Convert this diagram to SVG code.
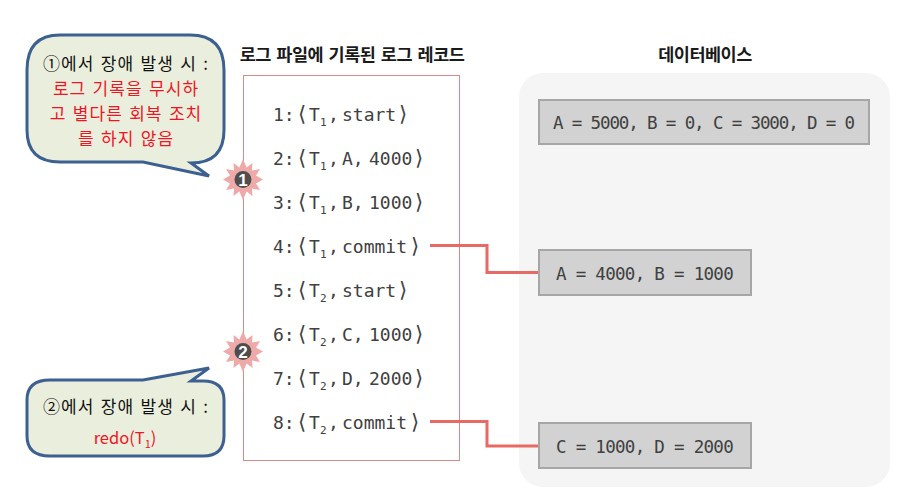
<svg xmlns="http://www.w3.org/2000/svg" width="897" height="497" viewBox="0 0 897 497">
<defs>
<style>
.log{font-family:"DejaVu Sans Mono","Liberation Mono",monospace;font-size:18px;fill:#404040}
.sub{font-size:11px}
.br{font-family:"DejaVu Sans",sans-serif;font-size:21px}
.db{font-family:"DejaVu Sans Mono","Liberation Mono",monospace;font-size:17.5px;fill:#404040;letter-spacing:-.7px}
.db0{letter-spacing:-1.13px}
.box{fill:#d2d2d2;stroke:#a6a6a6;stroke-width:2}
.head{font-family:"Noto Sans CJK KR","Noto Sans",sans-serif;font-size:17.5px;font-weight:700;fill:#1a1a1a;text-anchor:middle;letter-spacing:-.5px}
.call{fill:#eaeedd;stroke:#3c6090;stroke-width:3}
.k{font-family:"Noto Sans CJK KR","Noto Sans",sans-serif;font-size:17px;text-anchor:middle;fill:#111;letter-spacing:1.05px;word-spacing:1.5px}
.r{fill:#f01525}
.conn{fill:none;stroke:#e86a64;stroke-width:3}
.star{fill:#eeaaa8}
.dot{fill:#4d4d4d}
.num{font-family:"Liberation Sans",sans-serif;font-size:17px;font-weight:700;fill:#fff;text-anchor:middle}
</style>
</defs>
<rect id="db-panel" x="519" y="73" width="371" height="414" rx="24" fill="#f5f5f5"/>
<text class="head" x="352" y="61" word-spacing="2">로그 파일에 기록된 로그 레코드</text>
<text class="head" x="705" y="61">데이터베이스</text>
<g id="log-box">
<rect x="243.500" y="75.500" width="216" height="385" fill="none" stroke="#dc8a88" stroke-width="1"/>
<text class="log" y="121"><tspan x="273">1:</tspan><tspan class="br" x="298">⟨</tspan><tspan x="309">T</tspan><tspan class="sub" x="320" dy="5">1</tspan><tspan x="328" dy="-5">,</tspan><tspan x="342">start</tspan><tspan class="br" x="399">⟩</tspan></text>
<text class="log" y="165"><tspan x="273">2:</tspan><tspan class="br" x="298">⟨</tspan><tspan x="309">T</tspan><tspan class="sub" x="320" dy="5">1</tspan><tspan x="328" dy="-5">,</tspan><tspan x="342">A,</tspan><tspan x="369">4000</tspan><tspan class="br" x="415">⟩</tspan></text>
<text class="log" y="209"><tspan x="273">3:</tspan><tspan class="br" x="298">⟨</tspan><tspan x="309">T</tspan><tspan class="sub" x="320" dy="5">1</tspan><tspan x="328" dy="-5">,</tspan><tspan x="342">B,</tspan><tspan x="369">1000</tspan><tspan class="br" x="415">⟩</tspan></text>
<text class="log" y="253"><tspan x="273">4:</tspan><tspan class="br" x="298">⟨</tspan><tspan x="309">T</tspan><tspan class="sub" x="320" dy="5">1</tspan><tspan x="328" dy="-5">,</tspan><tspan x="342">commit</tspan><tspan class="br" x="411">⟩</tspan></text>
<text class="log" y="297"><tspan x="273">5:</tspan><tspan class="br" x="298">⟨</tspan><tspan x="309">T</tspan><tspan class="sub" x="320" dy="5">2</tspan><tspan x="328" dy="-5">,</tspan><tspan x="342">start</tspan><tspan class="br" x="399">⟩</tspan></text>
<text class="log" y="341"><tspan x="273">6:</tspan><tspan class="br" x="298">⟨</tspan><tspan x="309">T</tspan><tspan class="sub" x="320" dy="5">2</tspan><tspan x="328" dy="-5">,</tspan><tspan x="342">C,</tspan><tspan x="369">1000</tspan><tspan class="br" x="415">⟩</tspan></text>
<text class="log" y="385"><tspan x="273">7:</tspan><tspan class="br" x="298">⟨</tspan><tspan x="309">T</tspan><tspan class="sub" x="320" dy="5">2</tspan><tspan x="328" dy="-5">,</tspan><tspan x="342">D,</tspan><tspan x="369">2000</tspan><tspan class="br" x="415">⟩</tspan></text>
<text class="log" y="429"><tspan x="273">8:</tspan><tspan class="br" x="298">⟨</tspan><tspan x="309">T</tspan><tspan class="sub" x="320" dy="5">2</tspan><tspan x="328" dy="-5">,</tspan><tspan x="342">commit</tspan><tspan class="br" x="411">⟩</tspan></text>
</g>
<g id="connectors">
<path class="conn" d="M430 245.500H487V272.500H539"/>
<path class="conn" d="M430 421.500H487V446H539"/>
</g>
<g id="db-state-0">
<rect class="box" x="539" y="100" width="330" height="44"/>
<text class="db db0" x="553" y="129">A = 5000, B = 0, C = 3000, D = 0</text>
</g>
<g id="db-state-1">
<rect class="box" x="539" y="250" width="212" height="45"/>
<text class="db" x="556" y="280">A = 4000, B = 1000</text>
</g>
<g id="db-state-2">
<rect class="box" x="539" y="423" width="212" height="45"/>
<text class="db" x="556" y="453">C = 1000, D = 2000</text>
</g>
<g id="callout-1">
<path class="call" d="M60 35H190Q224 35 224 70V130Q224 163 191 163L209 176L143 162H60Q27 162 27 130V70Q27 35 60 35Z"/>
<text class="k" x="126" y="70">①에서 장애 발생 시 :</text>
<text class="k r" x="126" y="95">로그 기록을 무시하</text>
<text class="k r" x="126" y="120">고 별다른 회복 조치</text>
<text class="k r" x="126" y="145">를 하지 않음</text>
</g>
<g id="callout-2">
<path class="call" d="M50 380H143L209 368L191 381H203Q224 381 224 400V436Q224 456 203 456H50Q27 456 27 436V400Q27 380 50 380Z"/>
<text class="k" x="126" y="413">②에서 장애 발생 시 :</text>
<text class="k r" x="125" y="444" style="letter-spacing:0;font-size:16.500px">redo(T<tspan font-size="11" dy="4">1</tspan><tspan dy="-4">)</tspan></text>
</g>
<g id="marker-1">
<polygon class="star" points="243,159 246.600,167.600 252.500,163 252,170.500 260,169 256,175.500 263,179.500 256,183.500 260,190 252,188.500 252.500,196 246.600,191.400 243,200 239.400,191.400 233.500,196 234,188.500 226,190 230,183.500 223,179.500 230,175.500 226,169 234,170.500 233.500,163 239.400,167.600"/>
<circle class="dot" cx="243" cy="179.500" r="8.500"/>
<text class="num" x="243" y="185.500">1</text>
</g>
<g id="marker-2">
<polygon class="star" points="243,331 246.600,339.600 252.500,335 252,342.500 260,341 256,347.500 263,351.500 256,355.500 260,362 252,360.500 252.500,368 246.600,363.400 243,372 239.400,363.400 233.500,368 234,360.500 226,362 230,355.500 223,351.500 230,347.500 226,341 234,342.500 233.500,335 239.400,339.600"/>
<circle class="dot" cx="243" cy="351.500" r="8.500"/>
<text class="num" x="243" y="357.500">2</text>
</g>
</svg>
